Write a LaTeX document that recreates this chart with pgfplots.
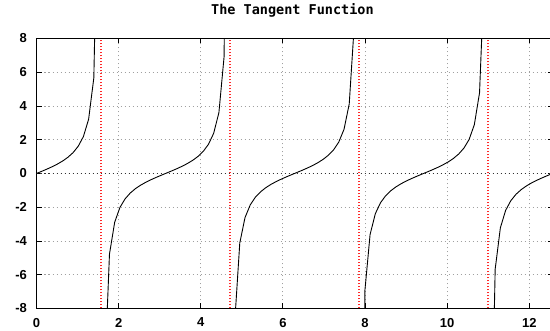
\documentclass[border=0pt]{standalone}
\usepackage{fontspec}
\usepackage{pgfplots}
\pgfplotsset{compat=1.18}
\newfontfamily\tickfont{Liberation Sans}
\newfontfamily\titlefont{DejaVu Sans Mono}
\definecolor{gridgray}{HTML}{A0A0A0}
\definecolor{asym}{HTML}{FF2828}
\begin{document}
\begin{tikzpicture}
\begin{axis}[
  name=ax,
  scale only axis,
  width=516pt, height=270pt,
  xmin=0, xmax=12.566371, ymin=-8, ymax=8,
  xtick={0,2,4,6,8,10,12},
  ytick={-8,-6,-4,-2,0,2,4,6,8},
  grid=major,
  grid style={gridgray, line width=0.8pt, dash pattern=on 1.5pt off 2.5pt},
  major tick length=5pt,
  tick align=inside,
  tick style={black, line width=0.8pt},
  axis line style={black, line width=1pt},
  /pgf/number format/assume math mode=true,
  ticklabel style={font=\tickfont\bfseries\fontsize{13}{15}\selectfont},
  xticklabel style={yshift=-6pt},
  yticklabel style={xshift=-6pt},
  title={The Tangent Function},
  title style={font=\titlefont\bfseries\fontsize{13.5}{15}\selectfont, at={(0.4961,1)}, anchor=base, yshift=18pt},
  clip=true,
]
% zero axis
\addplot[draw=black!80, line width=1pt, dash pattern=on 1.5pt off 2.5pt] coordinates {(0,0) (12.566371,0)};
% tan(x), 100 samples
\addplot[draw=black, line width=0.9pt] coordinates {(0,0) (0.12693,0.12762) (0.25387,0.25946) (0.38080,0.40034) (0.50773,0.55639) (0.63467,0.73629) (0.76160,0.95350) (0.88853,1.23090) (1.01546,1.61169) (1.14240,2.18970) (1.26933,3.21603) (1.39626,5.67128) (1.52320,20.9926)};
\addplot[draw=black, line width=0.9pt] coordinates {(1.65013,-12.5786) (1.77706,-4.77916) (1.90400,-2.88931) (2.03093,-2.01770) (2.15786,-1.50305) (2.28479,-1.15406) (2.41173,-0.89467) (2.53866,-0.68845) (2.66559,-0.51553) (2.79253,-0.36397) (2.91946,-0.22586) (3.04639,-0.09549) (3.17333,0.03174) (3.30026,0.16001) (3.42719,0.29363) (3.55413,0.43765) (3.68106,0.59870) (3.80799,0.78641) (3.93492,1.01599) (4.06186,1.31399) (4.18879,1.73205) (4.31572,2.38738) (4.44266,3.61702) (4.56959,6.95512) (4.69652,63.020)};
\addplot[draw=black, line width=0.9pt] coordinates {(4.82346,-8.96660) (4.95039,-4.12206) (5.07732,-2.61750) (5.20425,-1.86641) (5.33119,-1.40430) (5.45812,-1.08265) (5.58505,-0.83910) (5.71199,-0.64266) (5.83892,-0.47600) (5.96585,-0.32843) (6.09279,-0.19273) (6.21972,-0.06355) (6.34665,0.06355) (6.47358,0.19273) (6.60052,0.32843) (6.72745,0.47600) (6.85438,0.64266) (6.98132,0.83910) (7.10825,1.08265) (7.23518,1.40430) (7.36212,1.86641) (7.48905,2.61750) (7.61598,4.12206) (7.74292,8.96660)};
\addplot[draw=black, line width=0.9pt] coordinates {(7.86985,-63.020) (7.99678,-6.95512) (8.12371,-3.61702) (8.25065,-2.38738) (8.37758,-1.73205) (8.50451,-1.31399) (8.63145,-1.01599) (8.75838,-0.78641) (8.88531,-0.59870) (9.01225,-0.43765) (9.13918,-0.29363) (9.26611,-0.16001) (9.39304,-0.03174) (9.51998,0.09549) (9.64691,0.22586) (9.77384,0.36397) (9.90078,0.51553) (10.02771,0.68845) (10.15464,0.89467) (10.28158,1.15406) (10.40851,1.50305) (10.53544,2.01770) (10.66237,2.88931) (10.78931,4.77916) (10.91624,12.5786)};
\addplot[draw=black, line width=0.9pt] coordinates {(11.04317,-20.9926) (11.17011,-5.67128) (11.29704,-3.21603) (11.42397,-2.18970) (11.55091,-1.61169) (11.67784,-1.23090) (11.80477,-0.95350) (11.93170,-0.73629) (12.05864,-0.55639) (12.18557,-0.40034) (12.31250,-0.25946) (12.43944,-0.12762) (12.56637,0)};
% asymptotes
\addplot[draw=asym, line width=1.8pt, dash pattern=on 1.5pt off 1.5pt, line cap=butt] coordinates {(1.570796,-8) (1.570796,8)};
\addplot[draw=asym, line width=1.8pt, dash pattern=on 1.5pt off 1.5pt, line cap=butt] coordinates {(4.712389,-8) (4.712389,8)};
\addplot[draw=asym, line width=1.8pt, dash pattern=on 1.5pt off 1.5pt, line cap=butt] coordinates {(7.853982,-8) (7.853982,8)};
\addplot[draw=asym, line width=1.8pt, dash pattern=on 1.5pt off 1.5pt, line cap=butt] coordinates {(10.995574,-8) (10.995574,8)};
\end{axis}
\pgfresetboundingbox
\path ([xshift=-36.5pt,yshift=-21.5pt]ax.south west) rectangle ([xshift=-2.5pt,yshift=38.5pt]ax.north east);
\end{tikzpicture}
\end{document}
